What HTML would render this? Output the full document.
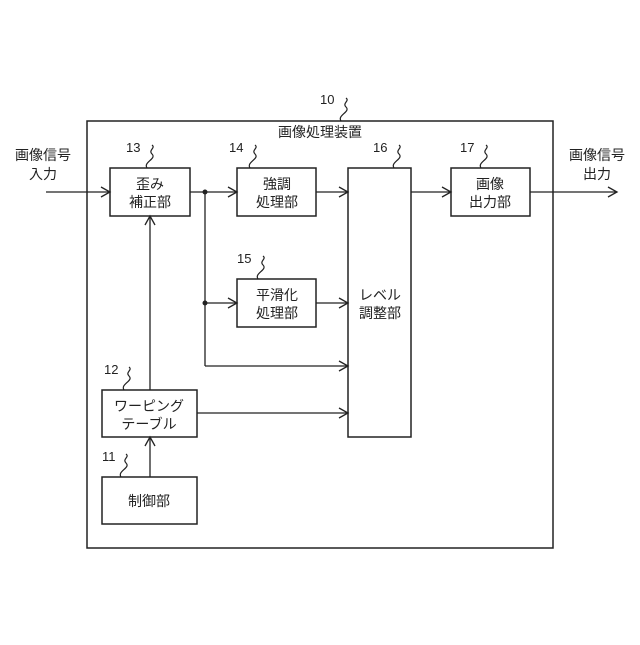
<!DOCTYPE html>
<html><head><meta charset="utf-8"><style>
html,body{margin:0;padding:0;background:#fff;}
text{font-family:"Liberation Sans","Noto Sans CJK JP",sans-serif;fill:#222;}
</style></head><body>
<svg width="640" height="640" viewBox="0 0 640 640" xmlns="http://www.w3.org/2000/svg">
<defs><marker id="a" markerWidth="12" markerHeight="12" refX="10" refY="6" orient="auto" markerUnits="userSpaceOnUse"><path d="M1,1 L10,6 L1,11" fill="none" stroke="#222" stroke-width="1.3"/></marker></defs>
<g fill="none" stroke="#222" stroke-width="1.5">
<rect x="87" y="121" width="466" height="427"/>
<rect x="110" y="168" width="80" height="48"/>
<rect x="237" y="168" width="79" height="48"/>
<rect x="237" y="279" width="79" height="48"/>
<rect x="348" y="168" width="63" height="269"/>
<rect x="451" y="168" width="79" height="48"/>
<rect x="102" y="390" width="95" height="47"/>
<rect x="102" y="477" width="95" height="47"/>
</g>
<g fill="none" stroke="#222" stroke-width="1.3" marker-end="url(#a)">
<line x1="46" y1="192" x2="110" y2="192"/>
<line x1="190" y1="192" x2="237" y2="192"/>
<line x1="316" y1="192" x2="348" y2="192"/>
<line x1="205" y1="303" x2="237" y2="303"/>
<line x1="316" y1="303" x2="348" y2="303"/>
<line x1="205" y1="366" x2="348" y2="366"/>
<line x1="197" y1="413" x2="348" y2="413"/>
<line x1="411" y1="192" x2="451" y2="192"/>
<line x1="530" y1="192" x2="617" y2="192"/>
<line x1="150" y1="390" x2="150" y2="216"/>
<line x1="150" y1="477" x2="150" y2="437"/>
</g>
<line x1="205" y1="192" x2="205" y2="366" stroke="#222" stroke-width="1.3"/>
<circle cx="205" cy="192" r="2.5" fill="#222"/>
<circle cx="205" cy="303" r="2.5" fill="#222"/>
<g fill="none" stroke="#222" stroke-width="1.2">
<path d="M341,121 c-4,-6 10,-9 5,-14 c-4,-4 4,-6 0,-9"/>
<path d="M147,168 c-4,-6 10,-9 5,-14 c-4,-4 4,-6 0,-9"/>
<path d="M250,168 c-4,-6 10,-9 5,-14 c-4,-4 4,-6 0,-9"/>
<path d="M258,279 c-4,-6 10,-9 5,-14 c-4,-4 4,-6 0,-9"/>
<path d="M394,168 c-4,-6 10,-9 5,-14 c-4,-4 4,-6 0,-9"/>
<path d="M481,168 c-4,-6 10,-9 5,-14 c-4,-4 4,-6 0,-9"/>
<path d="M124,390 c-4,-6 10,-9 5,-14 c-4,-4 4,-6 0,-9"/>
<path d="M121,477 c-4,-6 10,-9 5,-14 c-4,-4 4,-6 0,-9"/>
</g>
<g font-size="13">
<text x="320" y="104">10</text>
<text x="126" y="152">13</text>
<text x="229" y="152">14</text>
<text x="237" y="263">15</text>
<text x="373" y="152">16</text>
<text x="460" y="152">17</text>
<text x="104" y="374">12</text>
<text x="102" y="461">11</text>
</g>
<g font-size="14" text-anchor="middle">
<text x="320" y="137">画像処理装置</text>
<text x="43" y="160">画像信号</text><text x="43" y="179">入力</text>
<text x="597" y="160">画像信号</text><text x="597" y="179">出力</text>
<text x="150" y="189">歪み</text><text x="150" y="207">補正部</text>
<text x="277" y="189">強調</text><text x="277" y="207">処理部</text>
<text x="277" y="300">平滑化</text><text x="277" y="318">処理部</text>
<text x="380" y="300">レベル</text><text x="380" y="318">調整部</text>
<text x="490" y="189">画像</text><text x="490" y="207">出力部</text>
<text x="149" y="411">ワーピング</text><text x="149" y="429">テーブル</text>
<text x="149" y="506">制御部</text>
</g>
</svg>
</body></html>
